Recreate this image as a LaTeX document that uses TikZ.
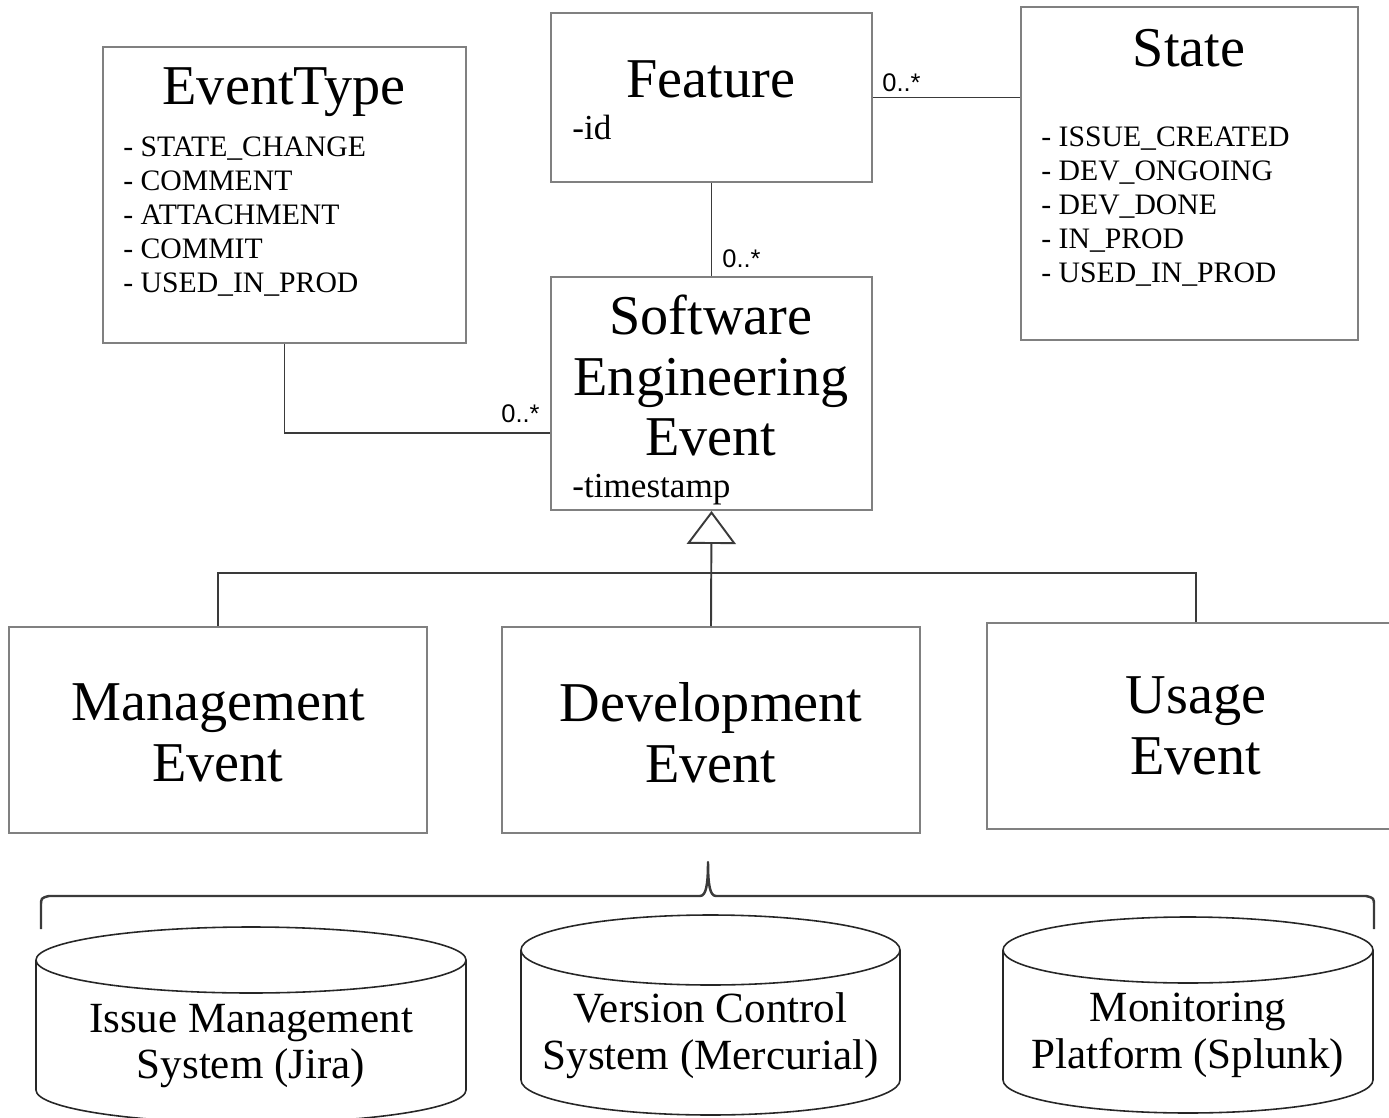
\documentclass[tikz,border=0pt]{standalone}
\usepackage{fontspec}
\setmainfont{Liberation Serif}
\newfontfamily\multfont{Liberation Sans}
\usetikzlibrary{arrows.meta,calc,fit}

\definecolor{boxgray}{RGB}{128,128,128}
\definecolor{linegray}{RGB}{58,58,58}

\tikzset{
  umlbox/.style={draw=boxgray, line width=1.1pt, inner sep=0pt},
  wire/.style={draw=linegray, line width=1.1pt},
  drum/.style={draw=black!85, line width=0.9pt},
  bracket/.style={draw=linegray, line width=1.4pt, line join=round},
  bigtext/.style={font=\fontsize{32pt}{34.7pt}\selectfont, align=center, inner sep=0pt},
  itemtext/.style={font=\fontsize{16.9pt}{19.4pt}\selectfont, inner sep=0pt, anchor=base west},
  attrtext/.style={font=\fontsize{20pt}{24pt}\selectfont, inner sep=0pt, anchor=base west},
  drumtext/.style={font=\fontsize{24.5pt}{26.7pt}\selectfont, align=center, inner sep=0pt},
  mult/.style={font=\multfont\fontsize{14.5pt}{17pt}\selectfont, inner sep=0pt},
}

% centre x, top centre y, x radius, y radius, side height
\def\dbdrum(#1,#2)(#3:#4:#5){%
  \draw[drum] (#1-#3,#2) -- (#1-#3,#2+#5) arc (180:0:#3 and #4) -- (#1+#3,#2);
  \draw[drum] (#1,#2) ellipse (#3 and #4);
}

\begin{document}
\begin{tikzpicture}[x=0.02cm, y=-0.02cm]
  \useasboundingbox (0,0) rectangle (1389,1118);

  %%%%% classes %%%%%
  \node[umlbox, fit={(103,47) (466,343)}] (etype) {};
  \node[bigtext, anchor=base] (etypeT) at (284,105) {EventType};
  \node[itemtext] (et1) at (123,157) {- STATE\_CHANGE};
  \node[itemtext] (et2) at (123,191) {- COMMENT};
  \node[itemtext] (et3) at (123,225) {- ATTACHMENT};
  \node[itemtext] (et4) at (123,259) {- COMMIT};
  \node[itemtext] (et5) at (123,293) {- USED\_IN\_PROD};

  \node[umlbox, fit={(551,13) (872,182)}] (feat) {};
  \node[bigtext, anchor=base] (featT) at (711,98) {Feature};
  \node[attrtext] (featA) at (572,140) {-id};

  \node[umlbox, fit={(1021,7) (1358,340)}] (state) {};
  \node[bigtext, anchor=base] (stateT) at (1189,67) {State};
  \node[itemtext] (st1) at (1041,147) {- ISSUE\_CREATED};
  \node[itemtext] (st2) at (1041,181) {- DEV\_ONGOING};
  \node[itemtext] (st3) at (1041,215) {- DEV\_DONE};
  \node[itemtext] (st4) at (1041,249) {- IN\_PROD};
  \node[itemtext] (st5) at (1041,283) {- USED\_IN\_PROD};

  \node[umlbox, fit={(551,277) (872,510)}] (see) {};
  \node[bigtext] (seeT) at (711,375.5) {Software\\Engineering\\Event};
  \node[attrtext] (seeA) at (572,497) {-timestamp};

  %%%%% associations %%%%%
  \draw[wire] (feat.south) -- (see.north);
  \draw[wire] (feat.east) -- (state.west |- feat.east);
  \draw[wire] (etype.south) |- ($(see.north west)!0.67!(see.south west)$);
  \node[mult, anchor=base west] (mFS) at (882,92) {0..*};
  \node[mult, anchor=base west] (mFE) at (722,268) {0..*};
  \node[mult, anchor=base east] (mTE) at (540,422) {0..*};

  %%%%% subclasses %%%%%
  \node[umlbox, fit={(9,627) (427,833)}] (mgmt) {};
  \node[bigtext] (mgmtT) at (218,732.5) {Management\\Event};
  \node[umlbox, fit={(502,627) (920,833)}] (dev) {};
  \node[bigtext] (devT) at (711,732.5) {Development\\Event};
  \node[umlbox, fit={(987,623) (1405,829)}] (usage) {};
  \node[bigtext] (usageT) at (1196,726) {Usage\\Event};

  \draw[wire, -{Triangle[open, length=0.66cm, width=0.98cm]}] (dev.north) -- (see.south);
  \draw[wire] (mgmt.north) -- ++(0,-53) -| (usage.north);

  %%%%% data sources %%%%%
  \draw[bracket] (41,929) -- (41,906) .. controls (41,898) .. (49,896) -- (700,896)
    .. controls (706,896) and (708,885) .. (708,862)
    .. controls (708,885) and (710,896) .. (716,896) -- (1366,896)
    .. controls (1374,898) .. (1374,906) -- (1374,929);

  \dbdrum(251,960)(215:33:130)
  \dbdrum(710.5,950)(189.5:35:130)
  \dbdrum(1188,950)(185:33:130)

  \node[drumtext] (jira) at (251,1046) {Issue Management\\System (Jira)};
  \node[drumtext] (hg) at (710.5,1035.5) {Version Control\\System (Mercurial)};
  \node[drumtext] (splunk) at (1188,1035) {Monitoring\\Platform (Splunk)};
\end{tikzpicture}
\end{document}
